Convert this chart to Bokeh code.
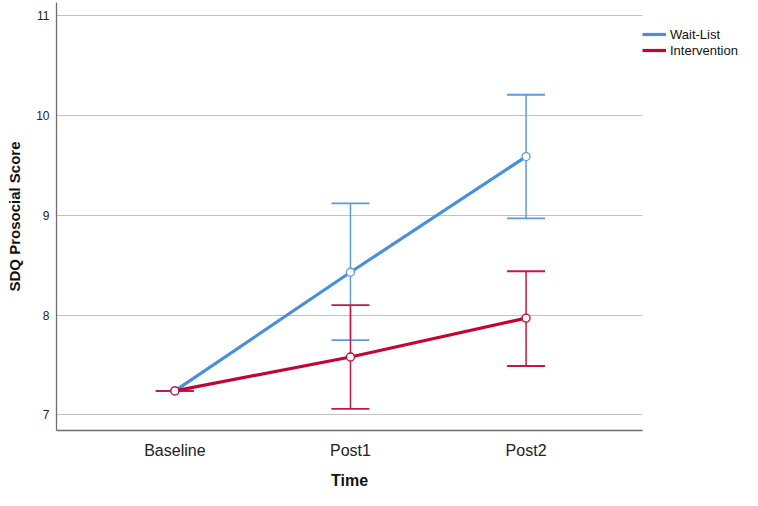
from bokeh.plotting import figure
from bokeh.models import (Range1d, FixedTicker, ColumnDataSource, Whisker, TeeHead,
                          Legend, LegendItem)
from bokeh.embed import file_html
from bokeh.resources import INLINE

times = ["Baseline", "Post1", "Post2"]
waitlist_mean = [7.24, 8.43, 9.59]
waitlist_low = [7.24, 7.75, 8.97]
waitlist_high = [7.24, 9.12, 10.21]
interv_mean = [7.24, 7.58, 7.97]
interv_low = [7.24, 7.06, 7.49]
interv_high = [7.24, 8.10, 8.44]
y_ticks = [7, 8, 9, 10, 11]

xs = list(range(len(times)))
FONT = "Liberation Sans"
BLUE = "#4a8fda"
BLUE_EB = "#5f9ad8"
RED = "#c20632"
RED_EB = "#c4164a"

p = figure(frame_width=586, frame_height=428, output_backend="svg", toolbar_location=None,
           x_range=Range1d(-0.674, 2.663), y_range=Range1d(6.843, 11.135),
           min_border_left=56, min_border_right=100, min_border_top=2, min_border_bottom=60)
p.outline_line_color = None
p.background_fill_color = "white"
p.border_fill_color = "white"

p.xgrid.grid_line_color = None
p.ygrid.grid_line_color = "#c2c2c2"
p.ygrid.grid_line_width = 1.2

p.yaxis.ticker = FixedTicker(ticks=y_ticks)
p.xaxis.ticker = FixedTicker(ticks=xs)
p.xaxis.major_label_overrides = {i: t for i, t in enumerate(times)}
for ax in (p.xaxis, p.yaxis):
    ax.major_tick_line_color = None
    ax.minor_tick_line_color = None
    ax.major_tick_out = 0
    ax.major_tick_in = 0
    ax.axis_line_color = "#6e6e6e"
    ax.axis_line_width = 1.3
    ax.major_label_text_font = FONT
    ax.major_label_text_color = "#222222"
    ax.axis_label_text_font = FONT
    ax.axis_label_text_font_style = "bold"
    ax.axis_label_text_color = "#111111"
p.yaxis.major_label_text_font_size = "12px"
p.yaxis.major_label_standoff = 7
p.xaxis.major_label_text_font_size = "16px"
p.xaxis.major_label_standoff = 11
p.yaxis.axis_label = "SDQ Prosocial Score"
p.xaxis.axis_label = "Time"
p.yaxis.axis_label_text_font_size = "15px"
p.xaxis.axis_label_text_font_size = "16px"
p.yaxis.axis_label_standoff = 10
p.xaxis.axis_label_standoff = 10

wl = ColumnDataSource(dict(x=xs, y=waitlist_mean, lo=waitlist_low, hi=waitlist_high))
iv = ColumnDataSource(dict(x=xs, y=interv_mean, lo=interv_low, hi=interv_high))

for src, col in ((wl, BLUE_EB), (iv, RED_EB)):
    w = Whisker(source=src, base="x", lower="lo", upper="hi", dimension="height",
                line_color=col, line_width=1.5,
                upper_head=TeeHead(size=38, line_color=col, line_width=1.8),
                lower_head=TeeHead(size=38, line_color=col, line_width=1.8))
    p.add_layout(w)

l1 = p.line("x", "y", source=wl, line_color=BLUE, line_width=3.2)
c1 = p.scatter("x", "y", source=wl, marker="circle", size=8, fill_color="white",
               line_color=BLUE_EB, line_width=1.3)
l2 = p.line("x", "y", source=iv, line_color=RED, line_width=3.2)
c2 = p.scatter("x", "y", source=iv, marker="circle", size=8, fill_color="white",
               line_color=RED, line_width=1.3)

legend = Legend(items=[LegendItem(label="Wait-List", renderers=[l1]),
                       LegendItem(label="Intervention", renderers=[l2])],
                location="top_left", orientation="vertical",
                title=" ", title_text_font_size="13px", title_standoff=9,
                padding=0, margin=0, spacing=0, border_line_color=None,
                background_fill_alpha=0, glyph_width=24, glyph_height=16,
                label_height=16, label_standoff=4,
                label_text_font=FONT, label_text_font_size="13px",
                label_text_color="#111111")
p.add_layout(legend, "right")

open("out.html", "w").write(file_html(p, INLINE))
